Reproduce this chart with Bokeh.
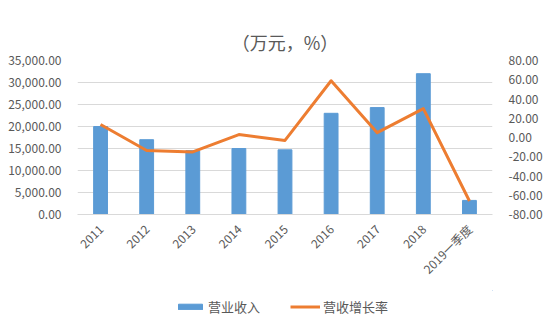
from bokeh.plotting import figure
from bokeh.layouts import column
from bokeh.models import (FactorRange, Range1d, LinearAxis, NumeralTickFormatter,
                          SingleIntervalTicker, Legend, LegendItem, ColumnDataSource)
from bokeh.embed import file_html
from bokeh.resources import INLINE
import math

categories = ["2011", "2012", "2013", "2014", "2015", "2016", "2017", "2018", "2019一季度"]
revenue = [20000, 17000, 14500, 15000, 14700, 23000, 24300, 32000, 3200]
growth = [13.5, -13.5, -15.0, 3.0, -3.0, 59.0, 5.0, 30.0, -66.0]
series_names = ["营业收入", "营收增长率"]

FONT = "Noto Sans CJK SC"
GRAY = "#595959"
BLUE = "#5B9BD5"
ORANGE = "#ED7D31"

src = ColumnDataSource(dict(cat=categories, rev=revenue, g=growth))

p = figure(width=550, height=290, x_range=FactorRange(*categories, range_padding=0),
           y_range=Range1d(0, 35000), output_backend="svg", toolbar_location=None,
           frame_width=415, frame_height=154,
           min_border_left=77, min_border_right=58, min_border_top=60, min_border_bottom=76,
           title="（万元，%）")
p.x_range.range_padding = 0
p.outline_line_color = None
p.background_fill_color = "white"
p.border_fill_color = "white"

p.title.align = "center"
p.title.vertical_align = "middle"
p.title.text_font = FONT
p.title.text_font_size = "18px"
p.title.text_font_style = "normal"
p.title.text_color = GRAY

p.extra_y_ranges = {"pct": Range1d(-80, 80)}

p.vbar(x="cat", top="rev", width=0.3, source=src, color=BLUE)
p.line(x="cat", y="g", source=src, y_range_name="pct", line_color=ORANGE,
       line_width=3, line_join="round")

la = p.yaxis[0]
la.ticker = SingleIntervalTicker(interval=5000)
la.formatter = NumeralTickFormatter(format="0,0.00")
ra = LinearAxis(y_range_name="pct", ticker=SingleIntervalTicker(interval=20),
                formatter=NumeralTickFormatter(format="0.00"))
p.add_layout(ra, "right")
for ax in (la, ra):
    ax.axis_line_color = None
    ax.major_tick_line_color = None
    ax.minor_tick_line_color = None
    ax.major_label_text_font = FONT
    ax.major_label_text_font_size = "12px"
    ax.major_label_text_color = GRAY
    ax.major_label_standoff = 10

xa = p.xaxis[0]
xa.axis_line_color = "#D9D9D9"
xa.major_tick_line_color = None
xa.minor_tick_line_color = None
xa.major_label_orientation = math.pi / 4
xa.major_label_text_font = FONT
xa.major_label_text_font_size = "12px"
xa.major_label_text_color = GRAY
xa.major_label_standoff = 6

p.xgrid.grid_line_color = None
p.ygrid.grid_line_color = "#D9D9D9"

# legend strip below the chart (stand-in marks lie outside its visible range)
lg = figure(width=550, height=40, x_range=Range1d(0, 1), y_range=Range1d(0, 1),
            x_axis_type=None, y_axis_type=None, output_backend="svg",
            toolbar_location=None, min_border=0)
lg.outline_line_color = None
lg.border_fill_color = "white"
r_bar = lg.vbar(x=[5.0], top=[6.0], bottom=[5.0], width=0.3, color=BLUE)
r_line = lg.line(x=[5.0, 6.0], y=[5.0, 5.0], line_color=ORANGE, line_width=3)

legend = Legend(items=[LegendItem(label=series_names[0], renderers=[r_bar]),
                       LegendItem(label=series_names[1], renderers=[r_line])],
                orientation="horizontal", location=(98, 14),
                label_text_font=FONT, label_text_font_size="13px", label_text_color=GRAY,
                glyph_width=30, glyph_height=7, spacing=30, border_line_color=None,
                background_fill_alpha=0, padding=0, margin=0, label_standoff=3)
lg.add_layout(legend, "center")

layout = column(p, lg, spacing=0)
open("out.html", "w").write(file_html(layout, INLINE))
